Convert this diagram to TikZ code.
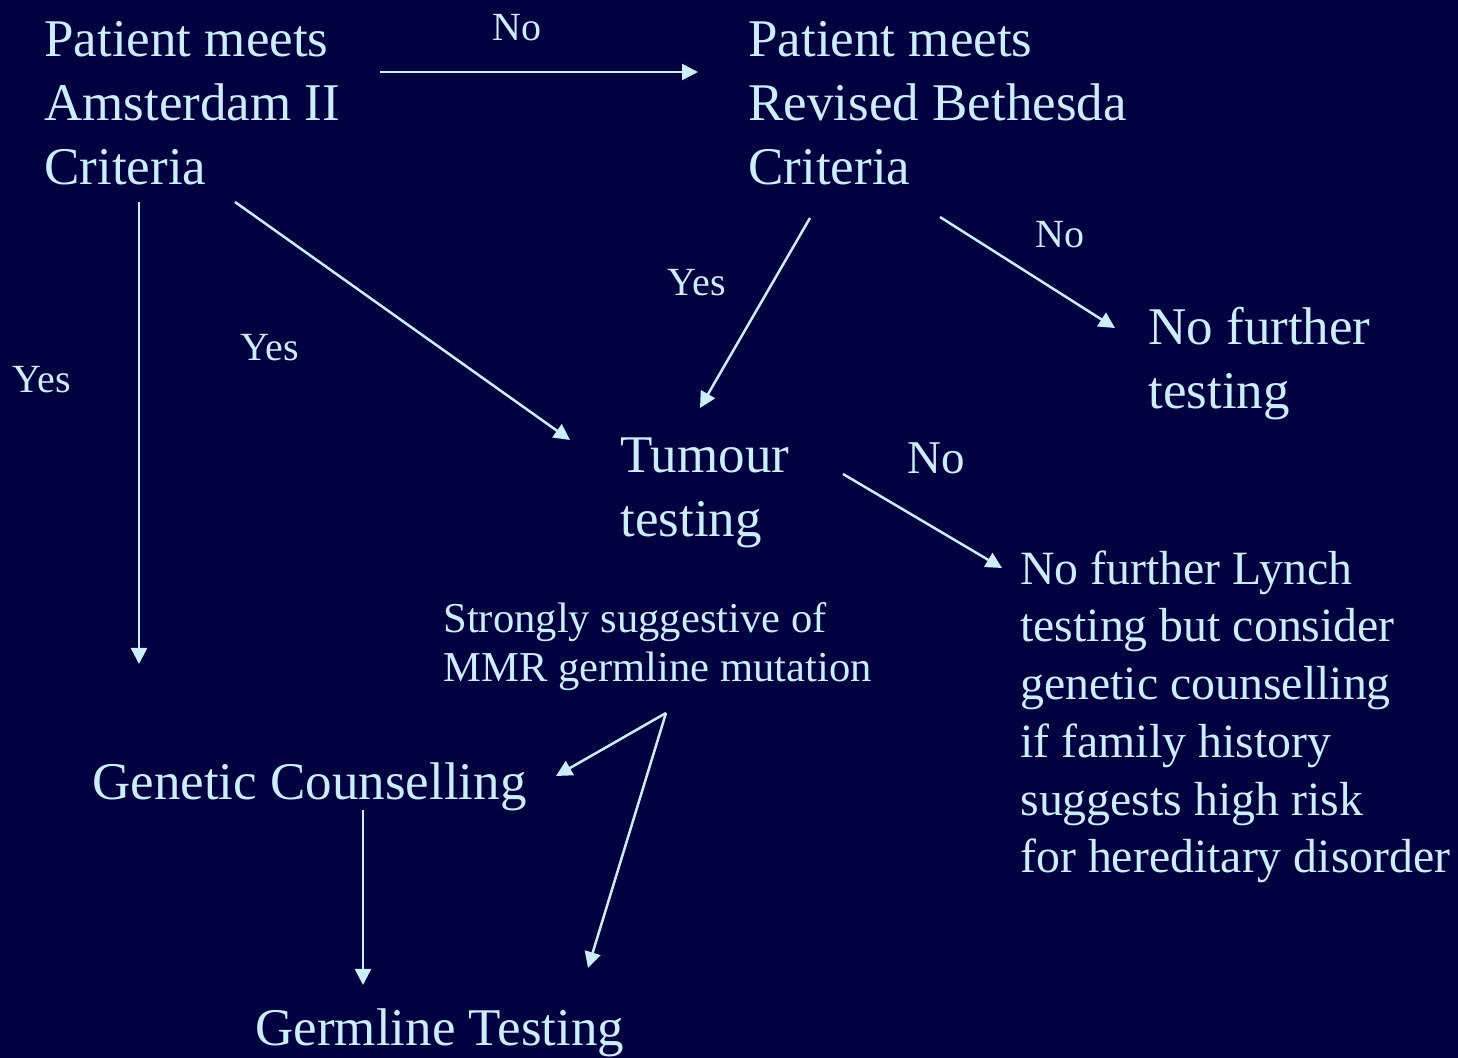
\documentclass[tikz,border=0pt]{standalone}
\usepackage{fontspec}
\setmainfont{Liberation Serif}
\usetikzlibrary{arrows.meta,positioning}
\definecolor{slidebg}{RGB}{0,0,64}
\definecolor{slidefg}{RGB}{204,236,255}

\begin{document}
\begin{tikzpicture}[x=0.5pt, y=-0.5pt,
    bigtext/.style={anchor=base west, inner sep=0pt, align=left, text=slidefg, font=\fontsize{26.5}{32}\selectfont},
    midtext/.style={bigtext, font=\fontsize{23.9}{28.9}\selectfont},
    smalltext/.style={bigtext, font=\fontsize{21.3}{24.5}\selectfont},
    answer/.style={anchor=base west, inner sep=0pt, text=slidefg, font=\fontsize{20}{24}\selectfont},
    flow/.style={-{Triangle[length=8pt, width=8pt]}, line width=1.25pt, draw=slidefg}
]

% --- Slide background ---
\fill[slidebg] (0,0) rectangle (1458,1058);
\useasboundingbox (0,0) rectangle (1458,1058);

% --- Decision steps (placed at the baseline of their last line) ---
\node[bigtext] (ams) at (44,185) {Patient meets\\Amsterdam II\\Criteria};
\node[bigtext] (beth) at (748,185) {Patient meets\\Revised Bethesda\\Criteria};
\node[bigtext] (nofurther) at (1148,409) {No further\\testing};
\node[bigtext] (tumour) at (620,537) {Tumour\\testing};
\node[midtext] (nolynch) at (1020,873) {No further Lynch\\testing but consider\\genetic counselling\\if family history\\suggests high risk\\for hereditary disorder};
\node[smalltext] (strong) at (443,682) {Strongly suggestive of\\MMR germline mutation};
\node[bigtext] (gencouns) at (92,800) {Genetic Counselling};
\node[bigtext] (germline) at (255,1045) {Germline Testing};

% --- Answers ---
\node[answer] (noA) at (492,41) {No};
\node[answer] (yesA) at (12,393) {Yes};
\node[answer] (yesB) at (240,361) {Yes};
\node[answer] (yesC) at (667,296) {Yes};
\node[answer] (noB) at (1035,248) {No};
\node[answer, font=\fontsize{23.5}{28}\selectfont] (noC) at (907,474) {No};

% Arrow ends
\coordinate (amsE) at (380,72);
\coordinate (bethW) at (698,72);
\coordinate (amsS) at (139,202);
\coordinate (gcN) at (139,664);
\coordinate (amsSE) at (235,202);
\coordinate (tumNW) at (570,440);
\coordinate (bethS) at (810,218);
\coordinate (tumN) at (700,408);
\coordinate (bethSE) at (940,217);
\coordinate (nfW) at (1115,328);
\coordinate (tumE) at (843,474);
\coordinate (nlW) at (1002,568);
\coordinate (strS) at (666,713);
\coordinate (gcE) at (556,776);
\coordinate (glN) at (588,968);
\coordinate (gcS) at (363,810);
\coordinate (glNW) at (363,985);

% --- Flow ---
\draw[flow] (amsE) -- (bethW);
\draw[flow] (amsS) -- (gcN);
\draw[flow] (amsSE) -- (tumNW);
\draw[flow] (bethS) -- (tumN);
\draw[flow] (bethSE) -- (nfW);
\draw[flow] (tumE) -- (nlW);
\draw[flow] (strS) -- (gcE);
\draw[flow] (strS) -- (glN);
\draw[flow] (gcS) -- (glNW);

\end{tikzpicture}
\end{document}
